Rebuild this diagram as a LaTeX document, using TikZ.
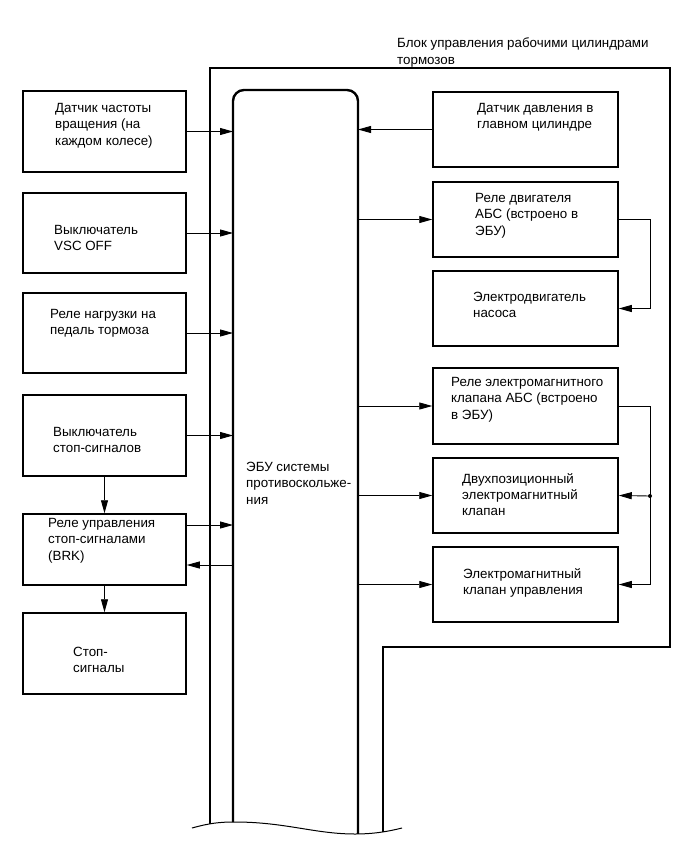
\documentclass[tikz,border=0pt]{standalone}
\usepackage{fontspec}
\setmainfont{Liberation Sans}
\usetikzlibrary{arrows.meta,calc}
\begin{document}
\begin{tikzpicture}[x=1bp,y=-1bp,
  lbox/.style={draw, line width=1.5bp, rectangle, inner sep=0, minimum width=163bp},
  rbox/.style={draw, line width=1.5bp, rectangle, inner sep=0, minimum width=185bp},
  lbl/.style={anchor=north west, inner sep=0, align=left, font=\fontsize{13.4}{16.5}\selectfont},
  arr/.style={-{Triangle[length=13bp,width=7bp]}, line width=0.9bp},
  conn/.style={line width=0.9bp},
  frame/.style={line width=1.6bp},
  eculine/.style={line width=2.4bp, rounded corners=11bp}
]
\useasboundingbox (0,0) rectangle (690,855);

% left boxes
\node[lbox, minimum height=81bp] (b1) at (104.5,131.5) {};
\node[lbox, minimum height=80bp] (b2) at (104.5,233) {};
\node[lbox, minimum height=80bp] (b3) at (104.5,333) {};
\node[lbox, minimum height=81bp] (b4) at (104.5,435.5) {};
\node[lbox, minimum height=71bp] (b5) at (104.5,549.5) {};
\node[lbox, minimum height=81bp] (b6) at (104.5,653.5) {};

% right boxes
\node[rbox, minimum height=75bp] (r1) at (525.5,129.5) {};
\node[rbox, minimum height=75bp] (r2) at (525.5,219.5) {};
\node[rbox, minimum height=75bp] (r3) at (525.5,308.5) {};
\node[rbox, minimum height=76bp] (r4) at (525.5,406) {};
\node[rbox, minimum height=75bp] (r5) at (525.5,495.5) {};
\node[rbox, minimum height=75bp] (r6) at (525.5,584.5) {};

% labels
\node[lbl] (t1) at (55,103) {Датчик частоты\\вращения (на\\каждом колесе)};
\node[lbl] (t2) at (54,225) {Выключатель\\VSC OFF};
\node[lbl] (t3) at (50,309) {Реле нагрузки на\\педаль тормоза};
\node[lbl] (t4) at (53,427) {Выключатель\\стоп-сигналов};
\node[lbl] (t5) at (48,518) {Реле управления\\стоп-сигналами\\(BRK)};
\node[lbl] (t6) at (73,647) {Стоп-\\сигналы};
\node[lbl] (u1) at (477,103) {Датчик давления в\\главном цилиндре};
\node[lbl] (u2) at (475,193) {Реле двигателя\\АБС (встроено в\\ЭБУ)};
\node[lbl] (u3) at (473,292) {Электродвигатель\\насоса};
\node[lbl] (u4) at (451,377) {Реле электромагнитного\\клапана АБС (встроено\\в ЭБУ)};
\node[lbl] (u5) at (462,473) {Двухпозиционный\\электромагнитный\\клапан};
\node[lbl] (u6) at (463,568) {Электромагнитный\\клапан управления};
\node[lbl] (ecut) at (246,462) {ЭБУ системы\\противоскольже-\\ния};
\node[lbl] (title) at (397,38) {Блок управления рабочими цилиндрами\\тормозов};

% frame and ECU, clipped at the wavy break line
\begin{scope}
\clip (0,0) -- (0,828) -- (192,828) .. controls (210,823) and (220,822) .. (235,822)
  .. controls (285,822) and (315,834) .. (355,834)
  .. controls (375,834) and (390,831) .. (402,828) -- (690,828) -- (690,0) -- cycle;
\draw[frame] (210,850) -- (210,68) -- (670,68) -- (670,647) -- (383,647) -- (383,850);
\draw[eculine] (233,850) -- (233,90) -- (358,90) -- (358,850);
\end{scope}
\draw[line width=1bp] (192,828) .. controls (210,823) and (220,822) .. (235,822)
  .. controls (285,822) and (315,834) .. (355,834)
  .. controls (375,834) and (390,831) .. (402,828);

\coordinate (ecuL) at (233,0);
\coordinate (ecuR) at (358,0);
\coordinate (jx) at (650,0);

% left connectors
\draw[arr] (b1.east) -- (b1.east -| ecuL);
\draw[arr] (b2.east) -- (b2.east -| ecuL);
\draw[arr] (b3.east) -- (b3.east -| ecuL);
\draw[arr] (b4.east) -- (b4.east -| ecuL);
\coordinate (b5a) at ($(b5.east)+(0,-24.5)$);
\draw[arr] (b5a) -- (b5a -| ecuL);
\coordinate (b5b) at ($(b5.east)+(0,15.5)$);
\draw[arr] (b5b -| ecuL) -- (b5b);
\draw[arr] (b4.south) -- (b5.north);
\draw[arr] (b5.south) -- (b6.north);

% right connectors
\draw[arr] (r1.west) -- (r1.west -| ecuR) ;
\draw[arr] (r2.west -| ecuR) -- (r2.west);
\draw[arr] (r4.west -| ecuR) -- (r4.west);
\draw[arr] (r5.west -| ecuR) -- (r5.west);
\draw[arr] (r6.west -| ecuR) -- (r6.west);
\draw[arr] (r2.east) -- (r2.east -| jx) |- (r3.east);
\node[circle, fill, inner sep=0, minimum size=4bp] (dot) at (650,496) {};
\draw[conn] (r4.east) -- (r4.east -| jx) -- (dot.center);
\draw[arr] (dot.center) -- (r5.east);
\draw[arr] (dot.center) |- (r6.east);
\end{tikzpicture}
\end{document}
